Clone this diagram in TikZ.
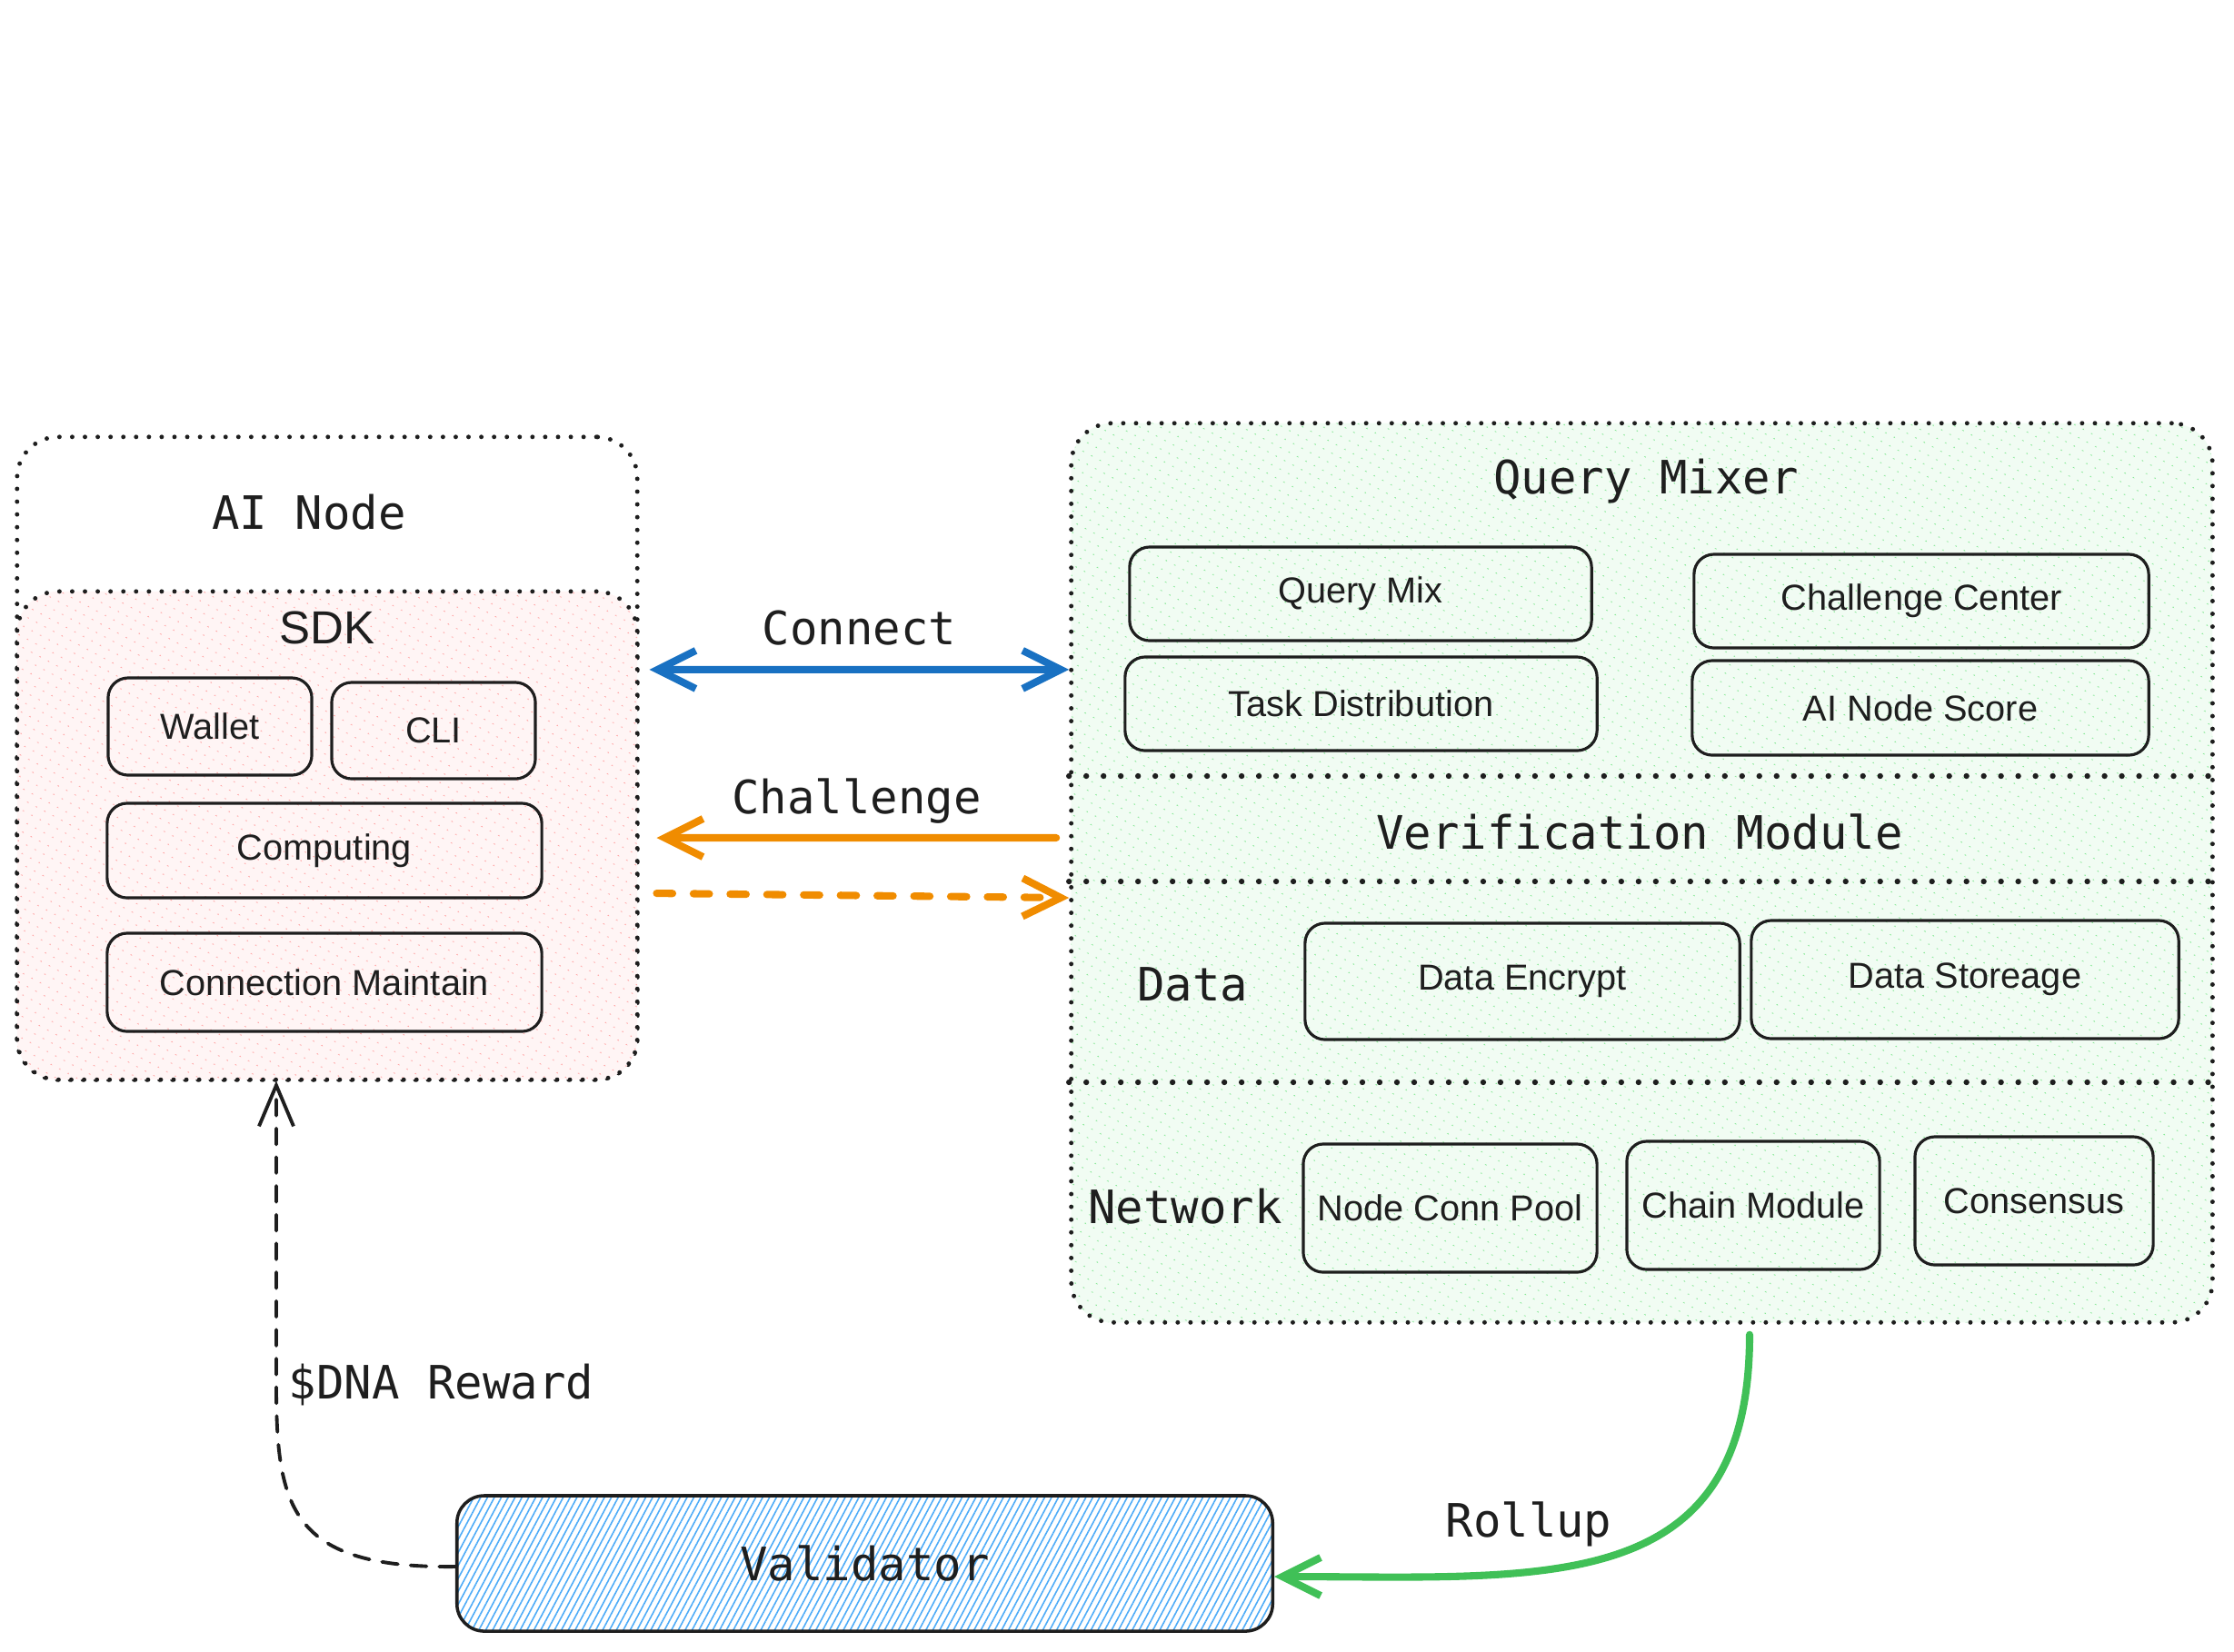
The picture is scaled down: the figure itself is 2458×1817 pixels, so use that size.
\documentclass[tikz,border=0pt]{standalone}
\usepackage{fontspec}
\setmainfont{Liberation Sans}
\newfontfamily\handfont{DejaVu Sans Mono}
\usepackage{xcolor}
\usepackage{tikz}
\usetikzlibrary{arrows.meta, positioning, calc, patterns.meta}

\definecolor{inkblack}{HTML}{1E1E1E}
\definecolor{connblue}{HTML}{1971C2}
\definecolor{challorange}{HTML}{F08C00}
\definecolor{rollgreen}{HTML}{40C057}
\definecolor{hatchred}{HTML}{FFA8A8}
\definecolor{hatchgreen}{HTML}{8CE99A}
\definecolor{hatchblue}{HTML}{4DABF7}

\begin{document}
\begin{tikzpicture}[x=0.01cm, y=-0.01cm]
	\tikzstyle{group} = [rectangle, rounded corners=0.45cm, draw=inkblack, line width=1.4pt, dash pattern=on 0pt off 4pt, line cap=round, inner sep=0]
	\tikzstyle{redhatch} = [preaction={fill=hatchred!12}, pattern={Lines[angle=62,distance=3pt,line width=0.7pt]}, pattern color=hatchred]
	\tikzstyle{greenhatch} = [preaction={fill=hatchgreen!12}, pattern={Lines[angle=62,distance=3pt,line width=0.7pt]}, pattern color=hatchgreen]
	\tikzstyle{bluehatch} = [pattern={Lines[angle=62,distance=1.9pt,line width=0.45pt]}, pattern color=hatchblue]
	\tikzstyle{box} = [rectangle, rounded corners=0.22cm, draw=inkblack, line width=0.9pt, inner sep=0, align=center, text=inkblack, font=\fontsize{11.3}{13}\selectfont]
	\tikzstyle{title} = [text=inkblack, font=\handfont\fontsize{14.4}{17}\selectfont]
	\tikzstyle{divider} = [draw=inkblack, line width=1.8pt, dash pattern=on 0pt off 5.4pt, line cap=round]
	\tikzstyle{connarrow} = [draw=connblue, line width=2.3pt, line cap=round, <->, >={Straight Barb[length=0.42cm,width=0.42cm]}]
	\tikzstyle{challarrow} = [draw=challorange, line width=2.3pt, line cap=round, ->, >={Straight Barb[length=0.42cm,width=0.42cm]}]
	\tikzstyle{resparrow} = [challarrow, dash pattern=on 5pt off 6.5pt]
	\tikzstyle{rollarrow} = [draw=rollgreen, line width=2.3pt, line cap=round, ->, >={Straight Barb[length=0.42cm,width=0.42cm]}]
	\tikzstyle{rewardarrow} = [draw=inkblack, line width=1.1pt, line cap=round, dash pattern=on 5pt off 4pt, ->, >={Straight Barb[length=0.45cm,width=0.38cm]}]
	
	\useasboundingbox (0,0) rectangle (2458,1817);
	
	% AI Node side
	\node (ainode) [group, minimum width=6.82cm, minimum height=7.07cm] at (360,834.5) {};
	\node (sdk) [group, redhatch, minimum width=6.82cm, minimum height=5.37cm] at (360,919.5) {};
	\node (ainodelbl) [title] at (340,564) {AI Node};
	\node (sdklbl) [font=\fontsize{14.5}{17}\selectfont, text=inkblack] at (360,691) {SDK};
	\node (wallet) [box, minimum width=2.24cm, minimum height=1.07cm] at (231,799.5) {Wallet};
	\node (cli) [box, minimum width=2.24cm, minimum height=1.06cm] at (477,804) {CLI};
	\node (computing) [box, minimum width=4.78cm, minimum height=1.04cm] at (357,936) {Computing};
	\node (connmaint) [box, minimum width=4.78cm, minimum height=1.08cm] at (357,1081) {Connection Maintain};
	
	% Query Mixer side
	\node (qm) [group, greenhatch, minimum width=12.55cm, minimum height=9.89cm] at (1806.5,960.5) {};
	\node (qmlbl) [title] at (1811,530) {Query Mixer};
	\node (querymix) [box, minimum width=5.08cm, minimum height=1.03cm] at (1497,653.5) {Query Mix};
	\node (chalcenter) [box, minimum width=5.0cm, minimum height=1.03cm] at (2114,661.5) {Challenge Center};
	\node (taskdist) [box, minimum width=5.19cm, minimum height=1.03cm] at (1497.5,774.5) {Task Distribution};
	\node (nodescore) [box, minimum width=5.02cm, minimum height=1.04cm] at (2113,779) {AI Node Score};
	\draw [divider] (qm.west |- 0,854) -- (qm.east |- 0,854);
	\node (veriflbl) [title] at (1804,915) {Verification Module};
	\draw [divider] (qm.west |- 0,970) -- (qm.east |- 0,970);
	\node (datalbl) [title] at (1312,1083) {Data};
	\node (encrypt) [box, minimum width=4.78cm, minimum height=1.28cm] at (1675,1080) {Data Encrypt};
	\node (storage) [box, minimum width=4.70cm, minimum height=1.30cm] at (2162,1078) {Data Storeage};
	\draw [divider] (qm.west |- 0,1191) -- (qm.east |- 0,1191);
	\node (netlbl) [title] at (1304,1328) {Network};
	\node (connpool) [box, minimum width=3.23cm, minimum height=1.41cm] at (1595.5,1329.5) {Node Conn Pool};
	\node (chain) [box, minimum width=2.78cm, minimum height=1.41cm] at (1929,1326.5) {Chain Module};
	\node (consensus) [box, minimum width=2.62cm, minimum height=1.41cm] at (2238,1321.5) {Consensus};
	
	% Validator
	\node (val) [box, bluehatch, rounded corners=0.3cm, line width=1pt, minimum width=8.97cm, minimum height=1.49cm, font=\handfont\fontsize{14.4}{17}\selectfont] at (951.5,1720.5) {Validator};
	
	% Arrows
	\draw [connarrow] ([xshift=0.12cm,yshift=1.825cm]sdk.east) -- node[title, above=3pt] {Connect} ([yshift=2.235cm]qm.west);
	\draw [challarrow] ([xshift=-0.14cm,yshift=0.385cm]qm.west) -- node[title, above] {Challenge} ([xshift=0.2cm,yshift=-0.025cm]sdk.east);
	\draw [resparrow] ([xshift=0.2cm,yshift=-0.635cm]sdk.east) -- ([yshift=-0.275cm]qm.west);
	\draw [rollarrow] ($(chain.south |- qm.south)+(-4,11)$) .. controls (1925,1760) and (1700,1735) .. ([yshift=-0.145cm]val.east);
	\node (rolluplbl) [title] at (1682,1677) {Rollup};
	\draw [rewardarrow] ([yshift=-0.035cm]val.west) .. controls (320,1726) and (304,1660) .. (304,1524) node[title, right] {\$DNA Reward} -- ([xshift=-0.56cm]sdk.south);
	
\end{tikzpicture}
\end{document}
